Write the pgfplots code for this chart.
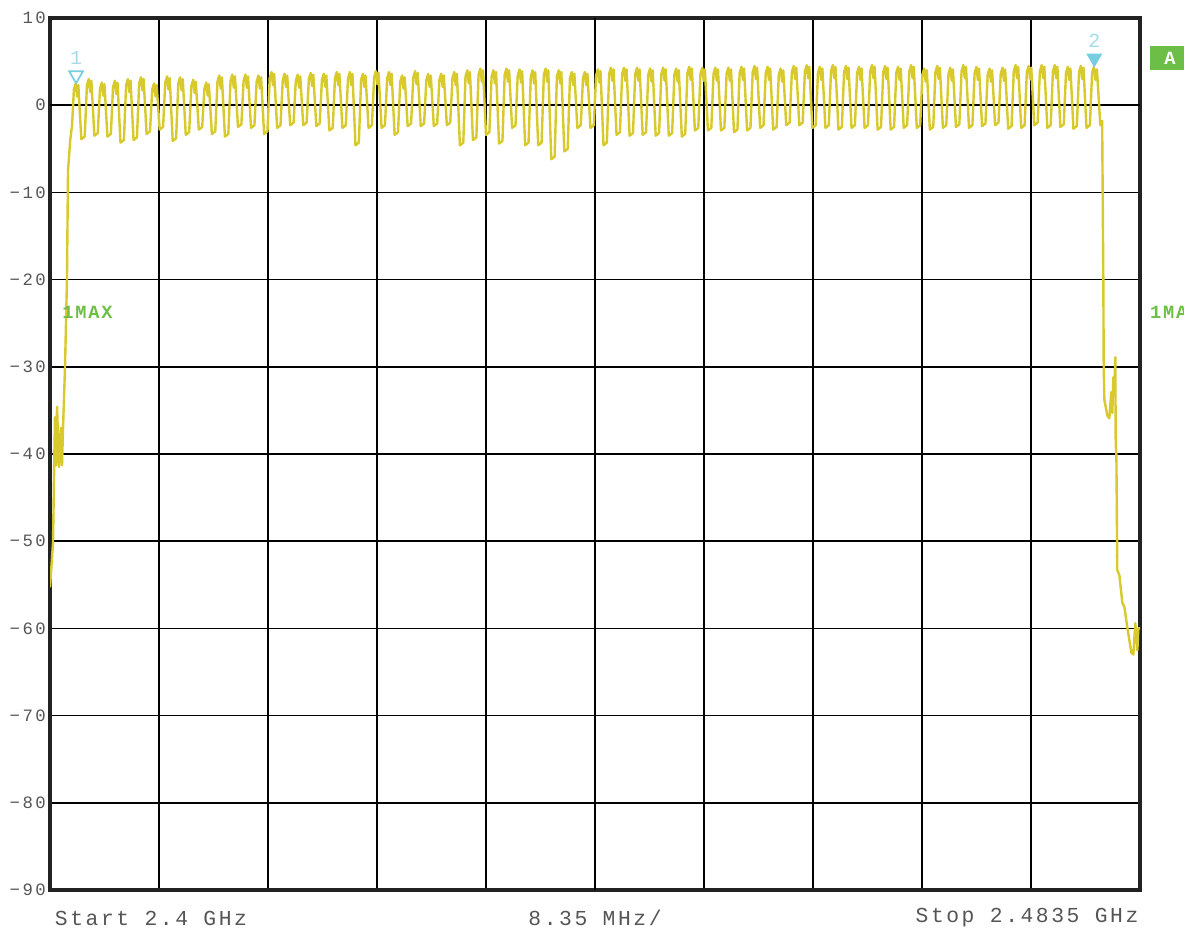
\documentclass[border=0pt]{standalone}
\usepackage{pgfplots}
\pgfplotsset{compat=1.18}
\usepackage{fontspec}
\setmainfont{Liberation Mono}
\newfontfamily\tickfont[LetterSpace=14]{Liberation Mono}
\newfontfamily\bottomfont[LetterSpace=12]{Liberation Mono}
\newfontfamily\markfont{Liberation Mono}
\newfontfamily\maxfont[LetterSpace=10]{Liberation Mono}

\definecolor{trace}{RGB}{216,202,44}
\definecolor{markcyan}{RGB}{120,205,225}
\definecolor{labelcyan}{RGB}{165,220,232}
\definecolor{fsvgreen}{RGB}{108,190,70}
\definecolor{ticktext}{RGB}{85,85,85}
\definecolor{frame}{RGB}{34,34,34}

\begin{document}
\begin{tikzpicture}
\path[use as bounding box] (0,0) rectangle (888pt,696pt);
\begin{axis}[
    at={(37.5pt,28.5pt)}, anchor=south west,
    scale only axis, width=817.5pt, height=654pt,
    xmin=0, xmax=83.5, ymin=-90, ymax=10,
    xtick={8.35,16.7,25.05,33.4,50.1,58.45,66.8,75.15},
    xticklabels={},
    extra x ticks={41.75}, extra x tick labels={},
    extra x tick style={grid style={draw=frame, line width=2.4pt}},
    ytick={-90,-80,-70,-60,-50,-40,-30,-20,-10,0,10},
    yticklabels={−90,−80,−70,−60,−50,−40,−30,−20,−10,0,10},
    extra y ticks={0}, extra y tick labels={},
    extra y tick style={grid style={draw=frame, line width=2.2pt}},
    grid=major,
    major grid style={draw=black, line width=1.1pt},
    major tick length=0pt,
    axis line style={draw=frame, line width=3.5pt},
    yticklabel style={font=\tickfont\fontsize{13}{13}\selectfont, text=ticktext, inner sep=1pt, xshift=-2pt},
    clip mode=individual,
]
% max hold trace, x in MHz above 2.4 GHz
\addplot[trace, line width=1.8pt, line join=round] coordinates {
(0,-55.3)(0.23,-50.2)(0.38,-35.8)(0.46,-41.3)(0.54,-34.6)(0.69,-41.5)(0.84,-37)(0.92,-41.3)(1.0,-37)(1.15,-30)(1.3,-20)(1.38,-7.5)(1.55,-4)(1.69,-2.3)
(1.83,1.8)(1.97,2.5)(2.08,1.0)(2.17,2.3)(2.4,-3.9)(2.66,-3.6)
(2.83,2.3)(2.97,3.0)(3.08,1.5)(3.17,2.8)(3.4,-3.5)(3.66,-3.2)
(3.83,1.9)(3.97,2.6)(4.08,1.1)(4.17,2.4)(4.4,-3.6)(4.66,-3.3)
(4.83,2.1)(4.97,2.8)(5.08,1.3)(5.17,2.6)(5.4,-4.3)(5.66,-4.0)
(5.83,2.3)(5.97,3.0)(6.08,1.5)(6.17,2.8)(6.4,-4.0)(6.66,-3.7)
(6.83,2.5)(6.97,3.2)(7.08,1.7)(7.17,3.0)(7.4,-3.3)(7.66,-3.0)
(7.83,1.8)(7.97,2.5)(8.08,1.0)(8.17,2.3)(8.4,-2.8)(8.66,-2.5)
(8.83,2.6)(8.97,3.3)(9.08,1.8)(9.17,3.1)(9.4,-4.1)(9.66,-3.8)
(9.83,2.5)(9.97,3.2)(10.08,1.7)(10.17,3.0)(10.4,-3.4)(10.66,-3.1)
(10.83,2.2)(10.97,2.9)(11.08,1.4)(11.17,2.7)(11.4,-2.8)(11.66,-2.5)
(11.83,1.9)(11.97,2.6)(12.08,1.1)(12.17,2.4)(12.4,-3.3)(12.66,-3.0)
(12.83,2.7)(12.97,3.4)(13.08,1.9)(13.17,3.2)(13.4,-3.6)(13.66,-3.3)
(13.83,2.8)(13.97,3.5)(14.08,2.0)(14.17,3.3)(14.4,-2.5)(14.66,-2.2)
(14.83,2.8)(14.97,3.5)(15.08,2.0)(15.17,3.3)(15.4,-2.6)(15.66,-2.3)
(15.83,2.7)(15.97,3.4)(16.08,1.9)(16.17,3.2)(16.4,-3.3)(16.66,-3.0)
(16.83,3.1)(16.97,3.8)(17.08,2.3)(17.17,3.6)(17.4,-2.6)(17.66,-2.3)
(17.83,2.9)(17.97,3.6)(18.08,2.1)(18.17,3.4)(18.4,-2.3)(18.66,-2.0)
(18.83,2.8)(18.97,3.5)(19.08,2.0)(19.17,3.3)(19.4,-2.3)(19.66,-2.0)
(19.83,3.0)(19.97,3.7)(20.08,2.2)(20.17,3.5)(20.4,-2.4)(20.66,-2.1)
(20.83,2.9)(20.97,3.6)(21.08,2.1)(21.17,3.4)(21.4,-2.9)(21.66,-2.6)
(21.83,3.1)(21.97,3.8)(22.08,2.3)(22.17,3.6)(22.4,-2.6)(22.66,-2.3)
(22.83,3.1)(22.97,3.8)(23.08,2.3)(23.17,3.6)(23.4,-4.6)(23.66,-4.3)
(23.83,2.9)(23.97,3.6)(24.08,2.1)(24.17,3.4)(24.4,-2.6)(24.66,-2.3)
(24.83,3.2)(24.97,3.9)(25.08,2.4)(25.17,3.7)(25.4,-2.6)(25.66,-2.3)
(25.83,3.1)(25.97,3.8)(26.08,2.3)(26.17,3.6)(26.4,-3.4)(26.66,-3.1)
(26.83,2.7)(26.97,3.4)(27.08,1.9)(27.17,3.2)(27.4,-2.4)(27.66,-2.1)
(27.83,3.2)(27.97,3.9)(28.08,2.4)(28.17,3.7)(28.4,-2.4)(28.66,-2.1)
(28.83,2.9)(28.97,3.6)(29.08,2.1)(29.17,3.4)(29.4,-2.4)(29.66,-2.1)
(29.83,2.9)(29.97,3.6)(30.08,2.1)(30.17,3.4)(30.4,-2.3)(30.66,-2.0)
(30.83,3.1)(30.97,3.8)(31.08,2.3)(31.17,3.6)(31.4,-4.6)(31.66,-4.3)
(31.83,3.3)(31.97,4.0)(32.08,2.5)(32.17,3.8)(32.4,-4.0)(32.66,-3.7)
(32.83,3.5)(32.97,4.2)(33.08,2.7)(33.17,4.0)(33.4,-3.4)(33.66,-3.1)
(33.83,3.3)(33.97,4.0)(34.08,2.5)(34.17,3.8)(34.4,-4.4)(34.66,-4.1)
(34.83,3.5)(34.97,4.2)(35.08,2.7)(35.17,4.0)(35.4,-2.6)(35.66,-2.3)
(35.83,3.4)(35.97,4.1)(36.08,2.6)(36.17,3.9)(36.4,-4.6)(36.66,-4.3)
(36.83,3.3)(36.97,4.0)(37.08,2.5)(37.17,3.8)(37.4,-4.6)(37.66,-4.3)
(37.83,3.5)(37.97,4.2)(38.08,2.7)(38.17,4.0)(38.4,-6.2)(38.66,-5.9)
(38.83,3.3)(38.97,4.0)(39.08,2.5)(39.17,3.8)(39.4,-5.3)(39.66,-5.0)
(39.83,3.1)(39.97,3.8)(40.08,2.3)(40.17,3.6)(40.4,-2.6)(40.66,-2.3)
(40.83,3.1)(40.97,3.8)(41.08,2.3)(41.17,3.6)(41.4,-2.6)(41.66,-2.3)
(41.83,3.4)(41.97,4.1)(42.08,2.6)(42.17,3.9)(42.4,-4.6)(42.66,-4.3)
(42.83,3.6)(42.97,4.3)(43.08,2.8)(43.17,4.1)(43.4,-3.4)(43.66,-3.1)
(43.83,3.6)(43.97,4.3)(44.08,2.8)(44.17,4.1)(44.4,-3.5)(44.66,-3.2)
(44.83,3.6)(44.97,4.3)(45.08,2.8)(45.17,4.1)(45.4,-3.4)(45.66,-3.1)
(45.83,3.5)(45.97,4.2)(46.08,2.7)(46.17,4.0)(46.4,-3.5)(46.66,-3.2)
(46.83,3.6)(46.97,4.3)(47.08,2.8)(47.17,4.1)(47.4,-3.5)(47.66,-3.2)
(47.83,3.5)(47.97,4.2)(48.08,2.7)(48.17,4.0)(48.4,-3.6)(48.66,-3.3)
(48.83,3.7)(48.97,4.4)(49.08,2.9)(49.17,4.2)(49.4,-2.9)(49.66,-2.6)
(49.83,3.6)(49.97,4.3)(50.08,2.8)(50.17,4.1)(50.4,-2.9)(50.66,-2.6)
(50.83,3.6)(50.97,4.3)(51.08,2.8)(51.17,4.1)(51.4,-2.9)(51.66,-2.6)
(51.83,3.6)(51.97,4.3)(52.08,2.8)(52.17,4.1)(52.4,-3.1)(52.66,-2.8)
(52.83,3.7)(52.97,4.4)(53.08,2.9)(53.17,4.2)(53.4,-2.9)(53.66,-2.6)
(53.83,3.8)(53.97,4.5)(54.08,3.0)(54.17,4.3)(54.4,-2.6)(54.66,-2.3)
(54.83,3.7)(54.97,4.4)(55.08,2.9)(55.17,4.2)(55.4,-2.8)(55.66,-2.5)
(55.83,3.5)(55.97,4.2)(56.08,2.7)(56.17,4.0)(56.4,-2.3)(56.66,-2.0)
(56.83,3.8)(56.97,4.5)(57.08,3.0)(57.17,4.3)(57.4,-2.3)(57.66,-2.0)
(57.83,3.9)(57.97,4.6)(58.08,3.1)(58.17,4.4)(58.4,-2.6)(58.66,-2.3)
(58.83,3.7)(58.97,4.4)(59.08,2.9)(59.17,4.2)(59.4,-2.6)(59.66,-2.3)
(59.83,3.9)(59.97,4.6)(60.08,3.1)(60.17,4.4)(60.4,-2.8)(60.66,-2.5)
(60.83,3.8)(60.97,4.5)(61.08,3.0)(61.17,4.3)(61.4,-2.6)(61.66,-2.3)
(61.83,3.7)(61.97,4.4)(62.08,2.9)(62.17,4.2)(62.4,-2.6)(62.66,-2.3)
(62.83,3.9)(62.97,4.6)(63.08,3.1)(63.17,4.4)(63.4,-2.8)(63.66,-2.5)
(63.83,3.8)(63.97,4.5)(64.08,3.0)(64.17,4.3)(64.4,-2.8)(64.66,-2.5)
(64.83,3.7)(64.97,4.4)(65.08,2.9)(65.17,4.2)(65.4,-2.6)(65.66,-2.3)
(65.83,3.9)(65.97,4.6)(66.08,3.1)(66.17,4.4)(66.4,-2.6)(66.66,-2.3)
(66.83,3.5)(66.97,4.2)(67.08,2.7)(67.17,4.0)(67.4,-2.8)(67.66,-2.5)
(67.83,3.8)(67.97,4.5)(68.08,3.0)(68.17,4.3)(68.4,-2.6)(68.66,-2.3)
(68.83,3.6)(68.97,4.3)(69.08,2.8)(69.17,4.1)(69.4,-2.5)(69.66,-2.2)
(69.83,3.9)(69.97,4.6)(70.08,3.1)(70.17,4.4)(70.4,-2.6)(70.66,-2.3)
(70.83,3.7)(70.97,4.4)(71.08,2.9)(71.17,4.2)(71.4,-2.4)(71.66,-2.1)
(71.83,3.5)(71.97,4.2)(72.08,2.7)(72.17,4.0)(72.4,-2.3)(72.66,-2.0)
(72.83,3.6)(72.97,4.3)(73.08,2.8)(73.17,4.1)(73.4,-2.7)(73.66,-2.4)
(73.83,3.9)(73.97,4.6)(74.08,3.1)(74.17,4.4)(74.4,-2.6)(74.66,-2.3)
(74.83,3.8)(74.97,4.5)(75.08,3.0)(75.17,4.3)(75.4,-2.3)(75.66,-2.0)
(75.83,3.9)(75.97,4.6)(76.08,3.1)(76.17,4.4)(76.4,-2.6)(76.66,-2.3)
(76.83,3.9)(76.97,4.6)(77.08,3.1)(77.17,4.4)(77.4,-2.5)(77.66,-2.2)
(77.83,3.7)(77.97,4.4)(78.08,2.9)(78.17,4.2)(78.4,-2.7)(78.66,-2.4)
(78.83,3.8)(78.97,4.5)(79.08,3.0)(79.17,4.3)(79.4,-2.6)(79.66,-2.3)
(79.83,3.7)(79.97,4.4)(80.08,2.9)(80.2,4.1)(80.46,-2.3)(80.6,-1.8)
(80.69,-20)(80.72,-30)(80.77,-33.8)(81.0,-35.6)(81.15,-35.9)(81.3,-32.9)(81.38,-35.3)(81.46,-31.2)(81.53,-32.3)(81.61,-28.9)(81.64,-39)(81.69,-39.9)
(81.76,-53.3)(81.92,-53.9)(82.15,-57.1)(82.3,-57.5)(82.53,-59.9)(82.84,-62.8)(82.99,-63)(83.14,-59.4)(83.3,-62.5)(83.37,-60)(83.5,-60)
};
% marker 1 (outline) and marker 2 (filled)
\addplot[only marks, mark=triangle*, mark size=6pt,
    mark options={rotate=180, draw=markcyan, fill=white, line width=1.3pt},
    nodes near coords={1},
    every node near coord/.append style={anchor=center, yshift=13pt, text=labelcyan, font=\markfont\fontsize{15}{15}\selectfont}]
    coordinates {(2.0,3.44)};
\addplot[only marks, mark=triangle*, mark size=6pt,
    mark options={rotate=180, draw=markcyan, fill=markcyan, line width=1pt},
    nodes near coords={2},
    every node near coord/.append style={anchor=center, yshift=13pt, text=labelcyan, font=\markfont\fontsize{15}{15}\selectfont}]
    coordinates {(80.0,5.39)};
% annotations
\node[anchor=west, inner sep=0pt, text=fsvgreen, font=\maxfont\bfseries\fontsize{14}{14}\selectfont] at (rel axis cs:0.011,0.663) {1MAX};
\node[anchor=west, inner sep=0pt, text=fsvgreen, font=\maxfont\bfseries\fontsize{14}{14}\selectfont] at (rel axis cs:1.009,0.663) {1MAX};
\node[anchor=west, fill=fsvgreen, text=white, minimum width=30pt, minimum height=18pt, inner sep=0pt, font=\markfont\bfseries\fontsize{14}{14}\selectfont] at (rel axis cs:1.009,0.954) {A};
\node[anchor=west, inner sep=0pt, text=ticktext, font=\bottomfont\fontsize{16}{16}\selectfont, xshift=3.5pt, yshift=-21pt] at (rel axis cs:0,0) {Start 2.4 GHz};
\node[anchor=center, inner sep=0pt, text=ticktext, font=\bottomfont\fontsize{16}{16}\selectfont, yshift=-21pt] at (rel axis cs:0.5,0) {8.35 MHz/};
\node[anchor=east, inner sep=0pt, text=ticktext, font=\bottomfont\fontsize{16}{16}\selectfont, xshift=-1pt, yshift=-21pt] at (rel axis cs:1,0) {Stop 2.4835 GHz};
\end{axis}
\end{tikzpicture}
\end{document}
